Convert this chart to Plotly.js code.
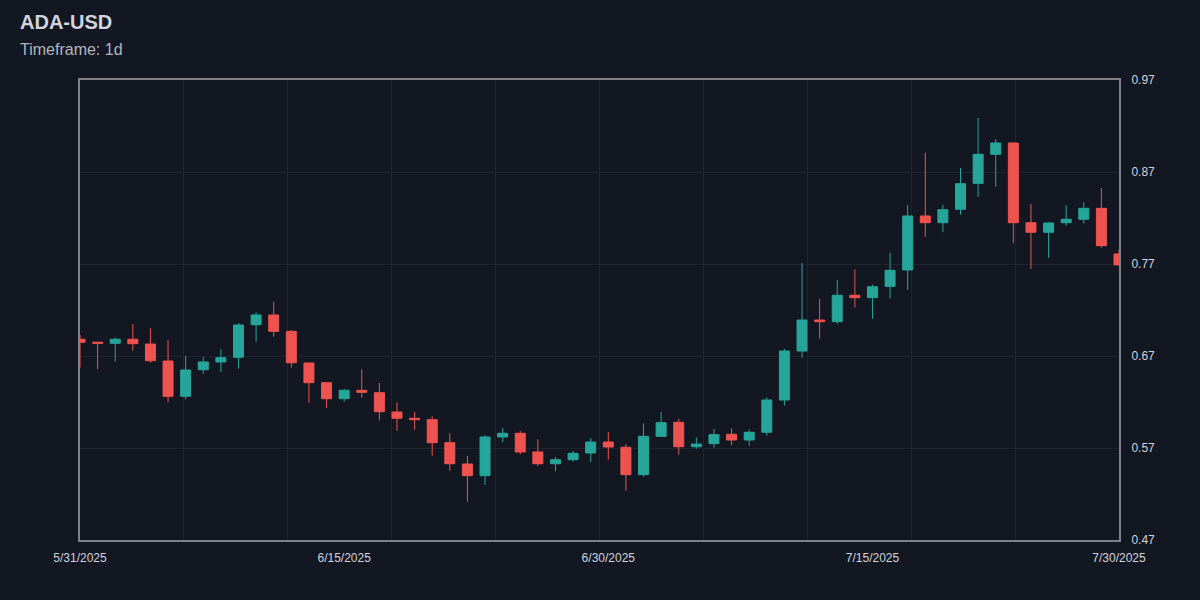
<!DOCTYPE html>
<html>
<head>
<meta charset="utf-8">
<script src="https://cdn.plot.ly/plotly-3.0.1.min.js"></script>
<style>
html,body{margin:0;padding:0;background:#131722;}
#chart{width:1200px;height:600px;}
</style>
</head>
<body>
<div id="chart"></div>
<script>
const dates = [
"2025-05-31","2025-06-01","2025-06-02","2025-06-03","2025-06-04","2025-06-05","2025-06-06","2025-06-07","2025-06-08","2025-06-09",
"2025-06-10","2025-06-11","2025-06-12","2025-06-13","2025-06-14","2025-06-15","2025-06-16","2025-06-17","2025-06-18","2025-06-19",
"2025-06-20","2025-06-21","2025-06-22","2025-06-23","2025-06-24","2025-06-25","2025-06-26","2025-06-27","2025-06-28","2025-06-29",
"2025-06-30","2025-07-01","2025-07-02","2025-07-03","2025-07-04","2025-07-05","2025-07-06","2025-07-07","2025-07-08","2025-07-09",
"2025-07-10","2025-07-11","2025-07-12","2025-07-13","2025-07-14","2025-07-15","2025-07-16","2025-07-17","2025-07-18","2025-07-19",
"2025-07-20","2025-07-21","2025-07-22","2025-07-23","2025-07-24","2025-07-25","2025-07-26","2025-07-27","2025-07-28","2025-07-29"
];
const openVals = [
0.6882,0.6850,0.6838,0.6882,0.6830,0.6646,0.6262,0.6551,0.6635,0.6686,
0.7040,0.7146,0.6968,0.6624,0.6410,0.6236,0.6327,0.6301,0.6091,0.6023,
0.6008,0.5758,0.5526,0.5399,0.5820,0.5860,0.5657,0.5529,0.5573,0.5646,
0.5765,0.5708,0.5410,0.5827,0.5979,0.5714,0.5747,0.5849,0.5787,0.5871,
0.6222,0.6754,0.7091,0.7073,0.7360,0.7334,0.7457,0.7635,0.8222,0.8149,
0.8295,0.8577,0.8892,0.9015,0.8149,0.8045,0.8149,0.8186,0.8305,0.7809
];
const highVals = [
0.6928,0.6852,0.6903,0.7048,0.7001,0.6874,0.6700,0.6689,0.6776,0.7055,
0.7175,0.7290,0.6983,0.6624,0.6410,0.6341,0.6555,0.6407,0.6197,0.6091,
0.6044,0.5860,0.5613,0.5841,0.5917,0.5885,0.5795,0.5602,0.5667,0.5809,
0.5874,0.5743,0.5969,0.6091,0.6015,0.5816,0.5907,0.5914,0.5903,0.6251,
0.6776,0.7711,0.7320,0.7526,0.7642,0.7475,0.7823,0.8340,0.8910,0.8341,
0.8743,0.9287,0.9059,0.9026,0.8352,0.8153,0.8340,0.8370,0.8526,0.7860
];
const lowVals = [
0.6577,0.6555,0.6638,0.6758,0.6627,0.6197,0.6229,0.6508,0.6526,0.6562,
0.6856,0.6910,0.6573,0.6192,0.6138,0.6203,0.6247,0.6000,0.5888,0.5899,
0.5616,0.5453,0.5116,0.5298,0.5762,0.5631,0.5504,0.5447,0.5552,0.5545,
0.5574,0.5236,0.5388,0.5819,0.5627,0.5692,0.5703,0.5732,0.5722,0.5834,
0.6160,0.6682,0.6888,0.7051,0.7225,0.7106,0.7327,0.7417,0.7997,0.8045,
0.8236,0.8432,0.8540,0.7925,0.7646,0.7768,0.8116,0.8142,0.7877,0.7685
];
const closeVals = [
0.6849,0.6838,0.6882,0.6834,0.6649,0.6262,0.6548,0.6635,0.6682,0.7037,
0.7146,0.6968,0.6627,0.6410,0.6236,0.6327,0.6305,0.6095,0.6023,0.6008,
0.5758,0.5529,0.5399,0.5820,0.5860,0.5657,0.5529,0.5573,0.5642,0.5765,
0.5711,0.5410,0.5827,0.5975,0.5714,0.5743,0.5845,0.5787,0.5871,0.6222,
0.6754,0.7091,0.7073,0.7360,0.7334,0.7453,0.7631,0.8222,0.8149,0.8290,
0.8573,0.8892,0.9015,0.8149,0.8045,0.8146,0.8186,0.8305,0.7899,0.7690
];
const tickIndex = [0, 15, 30, 45, 59];
const tickLabels = ["5/31/2025","6/15/2025","6/30/2025","7/15/2025","7/30/2025"];
const yTicks = [0.47, 0.57, 0.67, 0.77, 0.87, 0.97];
const titleText = "ADA-USD";
const subtitleText = "Timeframe: 1d";

const upColor = "#26a69a";
const downColor = "#ef5350";
const gridColor = "#1f2330";
const axisLineColor = "#7e808a";
const textColor = "#d1d4dc";

const t0 = Date.parse(dates[0] + "T00:00:00Z");
const t1 = Date.parse(dates[dates.length - 1] + "T00:00:00Z");

const trace = {
  type: "candlestick",
  x: dates,
  open: openVals,
  high: highVals,
  low: lowVals,
  close: closeVals,
  increasing: {line: {color: upColor, width: 1}, fillcolor: upColor},
  decreasing: {line: {color: downColor, width: 1}, fillcolor: downColor},
  whiskerwidth: 0,
  hoverinfo: "none"
};

const layout = {
  width: 1200,
  height: 600,
  paper_bgcolor: "#131722",
  plot_bgcolor: "#131722",
  font: {family: "Liberation Sans, Arial, sans-serif", color: textColor, size: 12},
  margin: {l: 80, r: 81, t: 80, b: 60},
  showlegend: false,
  boxgap: 0.19,
  title: {
    text: "<b>" + titleText + "</b><br><span style='font-size:16px;color:#b2b5be;font-weight:normal'>" + subtitleText + "</span>",
    font: {size: 20, color: textColor, family: "Liberation Sans, Arial, sans-serif"},
    x: 20 / 1200,
    xanchor: "left",
    xref: "container",
    y: 1 - 29 / 600,
    yanchor: "top",
    yref: "container"
  },
  xaxis: {
    type: "date",
    range: [dates[0], dates[dates.length - 1]],
    rangeslider: {visible: false},
    tickmode: "array",
    tickvals: tickIndex.map(i => dates[i]),
    ticktext: tickLabels,
    showgrid: false,
    ticks: "outside",
    ticklen: 6,
    tickcolor: "rgba(0,0,0,0)",
    tickfont: {size: 12, color: textColor},
    showline: true,
    linecolor: axisLineColor,
    linewidth: 2,
    mirror: true,
    zeroline: false,
    fixedrange: true,
    minor: {
      tickmode: "linear",
      tick0: dates[0],
      dtick: (t1 - t0) / 10,
      showgrid: true,
      gridcolor: gridColor,
      gridwidth: 1,
      ticks: "inside",
      ticklen: 0
    }
  },
  yaxis: {
    side: "right",
    range: [0.47, 0.97],
    tickmode: "array",
    tickvals: yTicks,
    ticktext: yTicks.map(v => v.toFixed(2)),
    showgrid: true,
    gridcolor: gridColor,
    gridwidth: 1,
    ticks: "outside",
    ticklen: 8,
    tickcolor: "rgba(0,0,0,0)",
    tickfont: {size: 12, color: textColor},
    showline: true,
    linecolor: axisLineColor,
    linewidth: 2,
    mirror: true,
    zeroline: false,
    fixedrange: true
  }
};

Plotly.newPlot("chart", [trace], layout, {displayModeBar: false, staticPlot: true});
</script>
</body>
</html>
